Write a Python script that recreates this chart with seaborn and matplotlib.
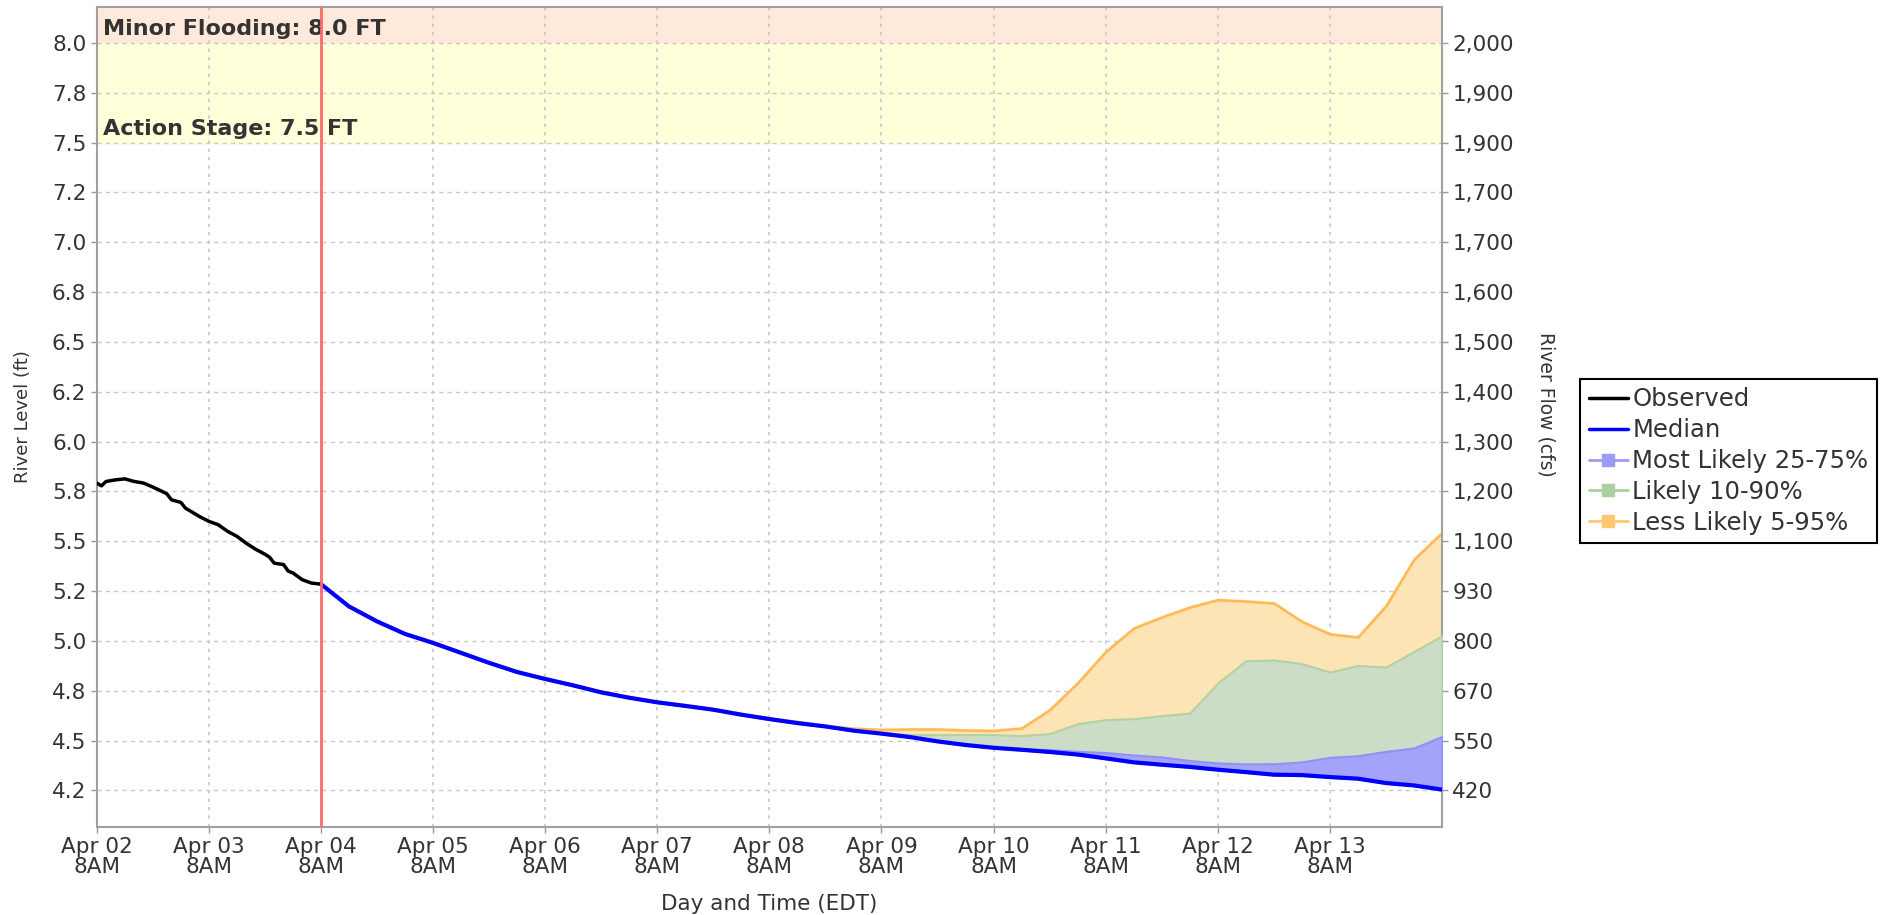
import pandas as pd
import matplotlib.pyplot as plt
from matplotlib.lines import Line2D
import seaborn as sns

# observed stage (ft), hours after Apr 02 8AM
obs_hours = [0, 1, 2, 4, 6, 8, 10, 12, 14, 15, 16, 18, 19, 22, 24, 26, 28, 30,
             32, 34, 36, 37, 38, 40, 41, 42, 44, 46, 48]
obs_stage = [5.792, 5.778, 5.800, 5.808, 5.813, 5.800, 5.792, 5.772, 5.750, 5.738,
             5.708, 5.695, 5.666, 5.624, 5.600, 5.583, 5.550, 5.525, 5.490, 5.460,
             5.435, 5.420, 5.390, 5.383, 5.350, 5.341, 5.307, 5.290, 5.285]

# forecast every 6 hours from Apr 04 8AM to Apr 14 8AM
fc_median = [5.285, 5.173, 5.098, 5.035, 4.990, 4.940, 4.890, 4.844, 4.809, 4.777,
             4.742, 4.715, 4.692, 4.674, 4.655, 4.630, 4.608, 4.588, 4.571, 4.550,
             4.535, 4.518, 4.496, 4.478, 4.464, 4.454, 4.443, 4.430, 4.411, 4.391,
             4.379, 4.368, 4.354, 4.342, 4.329, 4.327, 4.317, 4.309, 4.287, 4.275,
             4.254]
fc_p75 = [5.285, 5.173, 5.098, 5.035, 4.990, 4.940, 4.890, 4.844, 4.809, 4.777,
          4.742, 4.715, 4.692, 4.674, 4.655, 4.630, 4.608, 4.588, 4.571, 4.550,
          4.535, 4.518, 4.496, 4.478, 4.466, 4.458, 4.455, 4.446, 4.440, 4.428,
          4.418, 4.400, 4.388, 4.383, 4.384, 4.393, 4.416, 4.424, 4.446, 4.463,
          4.521]
fc_p90 = [5.285, 5.173, 5.098, 5.035, 4.990, 4.940, 4.890, 4.844, 4.809, 4.777,
          4.742, 4.715, 4.692, 4.674, 4.655, 4.630, 4.608, 4.588, 4.573, 4.552,
          4.540, 4.530, 4.530, 4.530, 4.530, 4.525, 4.535, 4.585, 4.605, 4.610,
          4.625, 4.638, 4.789, 4.900, 4.905, 4.886, 4.844, 4.877, 4.869, 4.947,
          5.026]
fc_p95 = [5.285, 5.177, 5.102, 5.040, 4.995, 4.945, 4.895, 4.849, 4.814, 4.782,
          4.747, 4.720, 4.697, 4.679, 4.660, 4.636, 4.614, 4.595, 4.575, 4.562,
          4.556, 4.558, 4.558, 4.553, 4.551, 4.563, 4.655, 4.790, 4.947, 5.065,
          5.120, 5.170, 5.207, 5.200, 5.190, 5.098, 5.035, 5.020, 5.177, 5.410,
          5.544]

stage_ticks = [4.25, 4.5, 4.75, 5.0, 5.25, 5.5, 5.75, 6.0, 6.25, 6.5, 6.75, 7.0,
               7.25, 7.5, 7.75, 8.0]
stage_labels = ["4.2", "4.5", "4.8", "5.0", "5.2", "5.5", "5.8", "6.0", "6.2",
                "6.5", "6.8", "7.0", "7.2", "7.5", "7.8", "8.0"]
flow_labels = ["420", "550", "670", "800", "930", "1,100", "1,200", "1,300",
               "1,400", "1,500", "1,600", "1,700", "1,700", "1,900", "1,900", "2,000"]
action_stage = 7.5
minor_flood = 8.0

start = pd.Timestamp("2024-04-02 08:00")
obs = pd.DataFrame({"time": start + pd.to_timedelta(obs_hours, unit="h"),
                    "stage": obs_stage})
fc = pd.DataFrame({"time": pd.date_range("2024-04-04 08:00", periods=len(fc_median), freq="6h"),
                   "median": fc_median, "p75": fc_p75, "p90": fc_p90, "p95": fc_p95})

sns.set_style("white")
plt.rcParams["font.family"] = ["DejaVu Sans"]

fig = plt.figure(figsize=(18.82, 9.15), dpi=100)
ax = fig.add_axes([0.0514, 0.0965, 0.7148, 0.8958])

# flood category bands
ax.axhspan(minor_flood, 9, color="#FFE9DA", zorder=0)
ax.axhspan(action_stage, minor_flood, color="#FFFFD9", zorder=0)
ax.text(0.005, minor_flood + 0.02, "Minor Flooding: 8.0 FT", transform=ax.get_yaxis_transform(),
        fontsize=16, fontweight="bold", color="#333333", va="bottom")
ax.text(0.005, action_stage + 0.02, "Action Stage: 7.5 FT", transform=ax.get_yaxis_transform(),
        fontsize=16, fontweight="bold", color="#333333", va="bottom")

# uncertainty bands (lower bounds sit under the median line)
ax.fill_between(fc["time"], fc["median"], fc["p95"], color="#FDE4B4", edgecolor="#FFBA5A",
                linewidth=2, zorder=2)
ax.fill_between(fc["time"], fc["median"], fc["p90"], color="#CCDCC6", edgecolor="#B2D2A2",
                linewidth=1.5, zorder=3)
ax.fill_between(fc["time"], fc["median"], fc["p75"], color="#A3A3FA", edgecolor="#9090F6",
                linewidth=1.5, zorder=4)

sns.lineplot(data=fc, x="time", y="median", color="#0000FF", linewidth=3, ax=ax, zorder=5)
sns.lineplot(data=obs, x="time", y="stage", color="black", linewidth=2.5, ax=ax, zorder=6)

ax.axvline(pd.Timestamp("2024-04-04 08:00"), color="#FF6B6B", linewidth=2, zorder=7)

ax.set_xlim(start, pd.Timestamp("2024-04-14 08:00"))
ax.set_ylim(4.068, 8.18)
ax.set_yticks(stage_ticks)
ax.set_yticklabels(stage_labels)
day_ticks = pd.date_range(start, periods=12, freq="D")
ax.set_xticks(day_ticks)
ax.set_xticklabels([d.strftime("%b %d") + "\n8AM" for d in day_ticks], linespacing=1.0)
ax.grid(True, axis="y", color="#C8C8C8", linestyle=(0, (3, 3)), linewidth=1)
ax.grid(True, axis="x", color="#C8C8C8", linestyle=(0, (2, 3)), linewidth=1.2)
for line in ax.get_xgridlines() + ax.get_ygridlines():
    line.set_zorder(1)

ax.tick_params(axis="both", labelsize=15.5, labelcolor="#333333", color="#999999",
               length=4, width=1, direction="out", left=True, bottom=True)
for sp in ax.spines.values():
    sp.set_color("#A0A0A0")
    sp.set_linewidth(1.5)
ax.set_xlabel("Day and Time (EDT)", fontsize=15.5, color="#333333", labelpad=12)
ax.set_ylabel("River Level (ft)", fontsize=13, color="#333333", labelpad=14)

ax2 = ax.twinx()
ax2.set_ylim(ax.get_ylim())
ax2.set_yticks(stage_ticks)
ax2.set_yticklabels(flow_labels)
ax2.tick_params(axis="y", labelsize=15.5, labelcolor="#333333", color="#999999",
                length=4, width=1, right=True)
for sp in ax2.spines.values():
    sp.set_visible(False)
ax2.set_ylabel("River Flow (cfs)", fontsize=13.5, color="#333333", rotation=270,
               va="center")
ax2.yaxis.set_label_coords(1.077, 0.515)

handles = [
    Line2D([], [], color="black", linewidth=2.5),
    Line2D([], [], color="#0000FF", linewidth=2.5),
    Line2D([], [], color="#9C9CF8", linewidth=2, marker="s", markersize=8),
    Line2D([], [], color="#A9D09E", linewidth=2, marker="s", markersize=8),
    Line2D([], [], color="#FFC870", linewidth=2, marker="s", markersize=8),
]
labels = ["Observed", "Median", "Most Likely 25-75%", "Likely 10-90%", "Less Likely 5-95%"]
leg = fig.legend(handles, labels, loc="upper left", bbox_to_anchor=(0.8396, 0.5858),
                 fontsize=17.5, frameon=True, fancybox=False, framealpha=1,
                 edgecolor="black", handlelength=1.6, handletextpad=0.2,
                 borderpad=0.35, labelspacing=0.28, borderaxespad=0)
leg.get_frame().set_linewidth(1.5)
for t in leg.get_texts():
    t.set_color("#333333")

fig.savefig("out.png", dpi=100)
